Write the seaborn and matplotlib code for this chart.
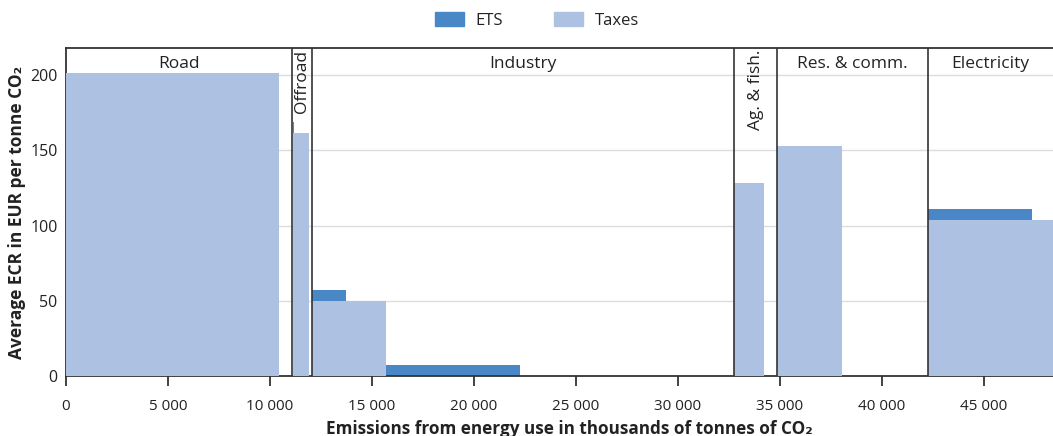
import matplotlib
matplotlib.use("Agg")
import matplotlib.pyplot as plt
import matplotlib.patches as mpatches
import numpy as np
import pandas as pd
import seaborn as sns

# Step distribution of effective carbon rates by emission block
# (bin edges in thousands of tonnes of CO2, rates in EUR per tonne CO2)
bin_edges = [0, 10440, 11080, 11110, 11180, 11910, 12060, 13720, 15670, 22270,
             32760, 34250, 34870, 38040, 42250, 47370, 48400]
taxes = [201.5, 0, 0, 161.5, 161.5, 0, 50, 50, 0, 0, 128.2, 0, 153, 0, 104, 104]
ets = [0, 0, 0, 7.5, 0, 0, 7, 0, 7, 0, 0, 0, 0, 0, 7, 0]

# Sector blocks and their labels
sector_names = ["Road", "Offroad", "Industry", "Ag. & fish.", "Res. & comm.", "Electricity"]
sector_bounds = [0, 11080, 12060, 32760, 34870, 42250, 48400]
sector_vertical = [False, True, False, True, False, False]

x_ticks = [0, 5000, 10000, 15000, 20000, 25000, 30000, 35000, 40000, 45000]
y_ticks = [0, 50, 100, 150, 200]

ETS_COLOR = "#4a87c7"
TAX_COLOR = "#adc2e2"
LINE_COLOR = "#333333"
TEXT_COLOR = "#222222"

sns.set_theme(style="white")
plt.rcParams["font.family"] = ["Open Sans", "DejaVu Sans"]

fig = plt.figure(figsize=(10.53, 4.36), dpi=100)
ax = fig.add_axes([0.0627, 0.1376, 0.9373, 0.7524])

edges = np.array(bin_edges, dtype=float)
blocks = pd.DataFrame({
    "mid": (edges[:-1] + edges[1:]) / 2,
    "taxes": taxes,
    "total": np.array(taxes) + np.array(ets),
})

# ETS sits on top of taxes: draw the total first, then the tax part over it
sns.histplot(data=blocks, x="mid", weights="total", bins=list(bin_edges),
             stat="count", color=ETS_COLOR, alpha=1, linewidth=0, ax=ax, zorder=2)
sns.histplot(data=blocks, x="mid", weights="taxes", bins=list(bin_edges),
             stat="count", color=TAX_COLOR, alpha=1, linewidth=0, ax=ax, zorder=3)

ax.set_xlim(0, 48400)
ax.set_ylim(0, 218)

ax.set_yticks(y_ticks)
ax.yaxis.grid(True, color="#dddddd", linewidth=1)
ax.set_axisbelow(True)
ax.set_xticks(x_ticks)
ax.set_xticklabels([f"{v:,}".replace(",", " ") for v in x_ticks])
ax.tick_params(axis="x", length=7, width=1.3, color=LINE_COLOR, labelsize=11,
               pad=9.5, bottom=True)
ax.tick_params(axis="y", length=0, labelsize=11.5, pad=6)
for lab in ax.get_xticklabels() + ax.get_yticklabels():
    lab.set_color(TEXT_COLOR)

for side in ["left", "top", "bottom"]:
    ax.spines[side].set_color(LINE_COLOR)
    ax.spines[side].set_linewidth(1.3)
ax.spines["right"].set_visible(False)

ax.set_xlabel("Emissions from energy use in thousands of tonnes of CO₂",
              fontsize=12.3, fontweight="bold", color=TEXT_COLOR)
ax.xaxis.set_label_coords(0.51, -0.134)
ax.set_ylabel("Average ECR in EUR per tonne CO₂",
              fontsize=12.5, fontweight="bold", color=TEXT_COLOR, labelpad=3)

# Sector dividers and labels
for b in sector_bounds[1:-1]:
    ax.axvline(b, color=LINE_COLOR, linewidth=1.2, zorder=4)
for name, lo, hi, vert in zip(sector_names, sector_bounds[:-1],
                              sector_bounds[1:], sector_vertical):
    cx = (lo + hi) / 2
    if vert:
        ax.text(cx, 217, name, rotation=90, ha="center", va="top",
                fontsize=12.5, color=TEXT_COLOR, zorder=5)
    else:
        ax.text(cx, 207.5, name, ha="center", va="center",
                fontsize=12.5, color=TEXT_COLOR, zorder=5)

handles = [mpatches.Patch(color=ETS_COLOR, label="ETS"),
           mpatches.Patch(color=TAX_COLOR, label="Taxes")]
fig.legend(handles=handles, loc="center", bbox_to_anchor=(0.51, 0.953),
           ncol=2, frameon=False, fontsize=12, handlelength=1.7,
           handleheight=0.85, handletextpad=0.7, columnspacing=3.1,
           labelcolor=TEXT_COLOR)

fig.savefig("out.png", dpi=100)
